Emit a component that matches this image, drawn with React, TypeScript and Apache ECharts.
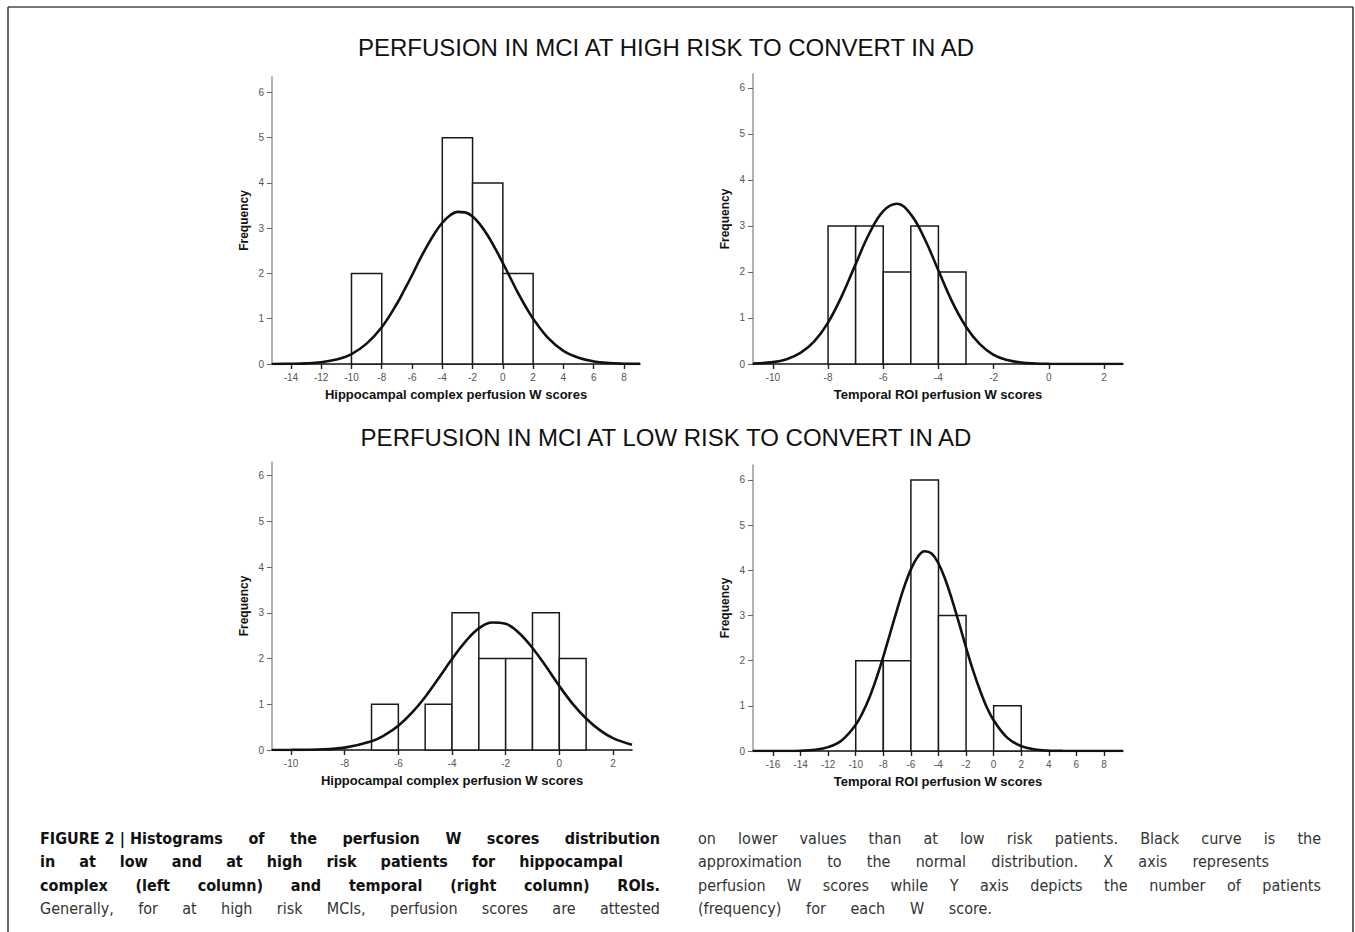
import React, { useEffect, useRef } from "react";
import * as echarts from "echarts";

// ---------- data ----------
const titleHigh = "PERFUSION IN MCI AT HIGH RISK TO CONVERT IN AD";
const titleLow = "PERFUSION IN MCI AT LOW RISK TO CONVERT IN AD";

const xNameHippo = "Hippocampal complex perfusion W scores";
const xNameTemporal = "Temporal ROI perfusion W scores";
const yName = "Frequency";

const yTicks = [0, 1, 2, 3, 4, 5, 6];

// bins: [start, end, count]
const binsHighHippo = [
  [-10, -8, 2],
  [-4, -2, 5],
  [-2, 0, 4],
  [0, 2, 2],
];
const binsHighTemporal = [
  [-8, -7, 3],
  [-7, -6, 3],
  [-6, -5, 2],
  [-5, -4, 3],
  [-4, -3, 2],
];
const binsLowHippo = [
  [-7, -6, 1],
  [-5, -4, 1],
  [-4, -3, 3],
  [-3, -2, 2],
  [-2, -1, 2],
  [-1, 0, 3],
  [0, 1, 2],
];
const binsLowTemporal = [
  [-10, -8, 2],
  [-8, -6, 2],
  [-6, -4, 6],
  [-4, -2, 3],
  [0, 2, 1],
];

// normal-approximation curves
const curveHighHippo = [
  [-15.25, 0.0005], [-14, 0.005], [-13, 0.014], [-12, 0.039], [-11, 0.098], [-10, 0.22],
  [-9, 0.45], [-8, 0.81], [-7, 1.33], [-6.5, 1.64], [-6, 1.96], [-5.5, 2.3], [-5, 2.61],
  [-4.5, 2.89], [-4, 3.12], [-3.5, 3.28], [-3, 3.36], [-2.5, 3.35], [-2, 3.26], [-1.5, 3.08],
  [-1, 2.84], [-0.5, 2.55], [0, 2.23], [0.5, 1.9], [1, 1.57], [1.5, 1.27], [2, 1.0],
  [3, 0.57], [4, 0.29], [5, 0.137], [6, 0.057], [7, 0.021], [8, 0.007], [9.06, 0.002],
];
const curveHighTemporal = [
  [-10.72, 0.009], [-10, 0.04], [-9.5, 0.104], [-9, 0.24], [-8.5, 0.49], [-8, 0.9],
  [-7.5, 1.48], [-7, 2.17], [-6.5, 2.84], [-6, 3.32], [-5.5, 3.48], [-5, 3.25],
  [-4.5, 2.72], [-4, 2.03], [-3.5, 1.35], [-3, 0.81], [-2.5, 0.43], [-2, 0.2],
  [-1.5, 0.087], [-1, 0.033], [-0.5, 0.011], [0, 0.003], [1, 0.0002], [2.69, 0],
];
const curveLowHippo = [
  [-10.71, 0.0005], [-10, 0.002], [-9, 0.011], [-8, 0.052], [-7, 0.19], [-6.5, 0.33],
  [-6, 0.53], [-5.5, 0.81], [-5, 1.16], [-4.5, 1.57], [-4, 1.99], [-3.5, 2.37], [-3, 2.66],
  [-2.5, 2.79], [-2, 2.76], [-1.5, 2.56], [-1, 2.23], [-0.5, 1.83], [0, 1.4], [0.5, 1.01],
  [1, 0.69], [1.5, 0.44], [2, 0.26], [2.71, 0.115],
];
const curveLowTemporal = [
  [-17.45, 0], [-15, 0.0015], [-14, 0.007], [-13, 0.026], [-12, 0.086], [-11, 0.24],
  [-10, 0.58], [-9.5, 0.85], [-9, 1.19], [-8.5, 1.61], [-8, 2.09], [-7.5, 2.61], [-7, 3.13],
  [-6.5, 3.62], [-6, 4.02], [-5.5, 4.3], [-5, 4.42], [-4.5, 4.37], [-4, 4.15], [-3.5, 3.79],
  [-3, 3.33], [-2.5, 2.82], [-2, 2.29], [-1.5, 1.79], [-1, 1.35], [-0.5, 0.97], [0, 0.68],
  [1, 0.29], [2, 0.107], [3, 0.034], [4, 0.009], [5, 0.002], [9.38, 0],
];

const xTicksHighHippo = [-14, -12, -10, -8, -6, -4, -2, 0, 2, 4, 6, 8];
const xTicksHighTemporal = [-10, -8, -6, -4, -2, 0, 2];
const xTicksLowHippo = [-10, -8, -6, -4, -2, 0, 2];
const xTicksLowTemporal = [-16, -14, -12, -10, -8, -6, -4, -2, 0, 2, 4, 6, 8];

// caption (words separated by spaces; \u00a0 keeps words together)
const captionLeft = [
  "FIGURE\u00a02\u00a0|\u00a0Histograms of the perfusion W scores distribution",
  "in at low and at high risk patients for hippocampal",
  "complex (left column) and temporal (right column) ROIs.",
  "Generally, for at high risk MCIs, perfusion scores are attested",
];
const captionRight = [
  "on lower values than at low risk patients. Black curve is the",
  "approximation to the normal distribution. X axis represents",
  "perfusion W scores while Y axis depicts the number of patients",
  "(frequency) for each W score.",
];

// ---------- layout ----------
const panels = [
  { bins: binsHighHippo, curve: curveHighHippo, ticks: xTicksHighHippo, xMin: -15.25, xMax: 9.06, yMax: 6.34, name: xNameHippo, grid: { left: 272, top: 77, width: 368, height: 287 } },
  { bins: binsHighTemporal, curve: curveHighTemporal, ticks: xTicksHighTemporal, xMin: -10.72, xMax: 2.69, yMax: 6.3, name: xNameTemporal, grid: { left: 753, top: 74, width: 370, height: 290 } },
  { bins: binsLowHippo, curve: curveLowHippo, ticks: xTicksLowHippo, xMin: -10.71, xMax: 2.71, yMax: 6.3, name: xNameHippo, grid: { left: 272, top: 462, width: 360, height: 288 } },
  { bins: binsLowTemporal, curve: curveLowTemporal, ticks: xTicksLowTemporal, xMin: -17.45, xMax: 9.38, yMax: 6.33, name: xNameTemporal, grid: { left: 753, top: 465, width: 370, height: 286 } },
];

const AXIS_FONT = '"Liberation Sans", Arial, sans-serif';
const CAP_FONT = '"Liberation Sans Narrow", "DejaVu Sans Condensed", "Liberation Sans", sans-serif';

let measureCtx: CanvasRenderingContext2D | null = null;
function measure(text: string, font: string): number {
  if (!measureCtx) measureCtx = document.createElement("canvas").getContext("2d");
  if (!measureCtx) return text.length * 7;
  measureCtx.font = font;
  return measureCtx.measureText(text).width;
}

function justified(text: string, x0: number, x1: number, y: number, weight: string, size: number, fill: string) {
  const words = text.split(" ").map((w) => w.replace(/\u00a0/g, " "));
  const font = `${weight} ${size}px ${CAP_FONT}`;
  const widths = words.map((w) => measure(w, font));
  const total = widths.reduce((a, b) => a + b, 0);
  const gap = words.length > 1 ? (x1 - x0 - total) / (words.length - 1) : 0;
  let x = x0;
  return words.map((w, i) => {
    const el = {
      type: "text",
      x,
      y,
      silent: true,
      style: { text: w, fontFamily: CAP_FONT, fontSize: size, fontWeight: weight, fill, verticalAlign: "middle", align: "left" },
    };
    x += widths[i] + gap;
    return el;
  });
}

export default function App() {
  const ref = useRef<HTMLDivElement>(null);

  useEffect(() => {
    if (!ref.current) return;
    const chart = echarts.init(ref.current, null, { renderer: "svg" });

    const grids = panels.map((p) => ({ ...p.grid, containLabel: false }));
    const xAxes = panels.map((p, i) => ({
      type: "value",
      gridIndex: i,
      min: p.xMin,
      max: p.xMax,
      axisLine: { show: true, onZero: false, lineStyle: { color: "#111", width: 1.6 } },
      axisTick: { show: true, length: 5, customValues: p.ticks, lineStyle: { color: "#222", width: 1.4 } },
      axisLabel: { customValues: p.ticks, color: "#555", fontSize: 10, margin: 8, fontFamily: AXIS_FONT },
      splitLine: { show: false },
      name: p.name,
      nameLocation: "middle",
      nameGap: 24,
      nameTextStyle: { fontWeight: "bold", fontSize: 13, color: "#111", fontFamily: AXIS_FONT },
    }));
    const yAxes = panels.map((p, i) => ({
      type: "value",
      gridIndex: i,
      min: 0,
      max: p.yMax,
      axisLine: { show: true, onZero: false, lineStyle: { color: "#999", width: 1.5 } },
      axisTick: { show: true, length: 5, customValues: yTicks, lineStyle: { color: "#666", width: 1 } },
      axisLabel: { customValues: yTicks, color: "#555", fontSize: 10, margin: 8, fontFamily: AXIS_FONT },
      splitLine: { show: false },
      name: yName,
      nameLocation: "middle",
      nameGap: 22,
      nameTextStyle: { fontWeight: "bold", fontSize: 12, color: "#111", fontFamily: AXIS_FONT },
    }));

    const series: any[] = [];
    panels.forEach((p, i) => {
      series.push({
        type: "custom",
        xAxisIndex: i,
        yAxisIndex: i,
        data: p.bins,
        encode: { x: [0, 1], y: 2 },
        silent: true,
        z: 2,
        renderItem: (_params: any, api: any) => {
          const p0 = api.coord([api.value(0), 0]);
          const p1 = api.coord([api.value(1), api.value(2)]);
          return {
            type: "rect",
            shape: { x: p0[0], y: p1[1], width: p1[0] - p0[0], height: p0[1] - p1[1] },
            style: { fill: "#fff", stroke: "#1a1a1a", lineWidth: 1.5 },
          };
        },
      });
      series.push({
        type: "line",
        xAxisIndex: i,
        yAxisIndex: i,
        data: p.curve,
        smooth: 0.4,
        showSymbol: false,
        symbol: "none",
        silent: true,
        z: 5,
        lineStyle: { color: "#111", width: 2.6 },
      });
    });

    const graphics: any[] = [
      { type: "line", silent: true, shape: { x1: 8, y1: 7, x2: 1353, y2: 7 }, style: { stroke: "#777", lineWidth: 2 } },
      { type: "line", silent: true, shape: { x1: 8, y1: 7, x2: 8, y2: 932 }, style: { stroke: "#333", lineWidth: 1.5 } },
      { type: "line", silent: true, shape: { x1: 1353, y1: 7, x2: 1353, y2: 932 }, style: { stroke: "#333", lineWidth: 1.5 } },
      { type: "text", x: 666, y: 47, silent: true, style: { text: titleHigh, fontFamily: AXIS_FONT, fontSize: 24, fill: "#111", align: "center", verticalAlign: "middle" } },
      { type: "text", x: 666, y: 437, silent: true, style: { text: titleLow, fontFamily: AXIS_FONT, fontSize: 24, fill: "#111", align: "center", verticalAlign: "middle" } },
    ];

    const leftEnds = [660, 623, 660, 660];
    const rightEnds = [1321, 1269, 1321, 992];
    captionLeft.forEach((line, i) => {
      const bold = i < 3;
      graphics.push(...justified(line, 40, leftEnds[i], 838 + i * 23.5, bold ? "bold" : "normal", 16, bold ? "#111" : "#333"));
    });
    captionRight.forEach((line, i) => {
      graphics.push(...justified(line, 698, rightEnds[i], 838 + i * 23.5, "normal", 16, "#333"));
    });

    chart.setOption({
      animation: false,
      backgroundColor: "#fff",
      grid: grids,
      xAxis: xAxes,
      yAxis: yAxes,
      series,
      graphic: { elements: graphics },
    });

    return () => chart.dispose();
  }, []);

  return <div ref={ref} style={{ position: "absolute", left: 0, top: 0, width: 1355, height: 932 }} />;
}
